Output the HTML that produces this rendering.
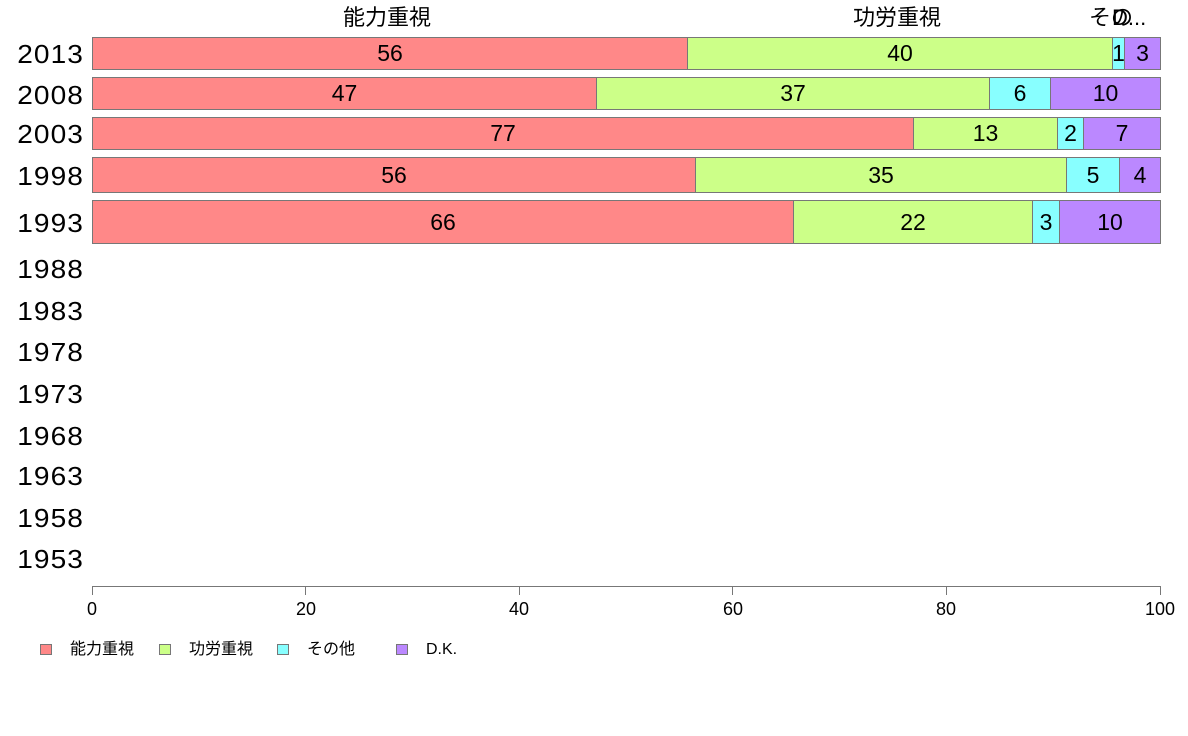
<!DOCTYPE html>
<html><head><meta charset="utf-8"><style>
body{margin:0;background:#fff;width:1188px;height:736px;position:relative;overflow:hidden;font-family:"Liberation Sans","Noto Sans CJK JP",sans-serif;color:#000}
.a{position:absolute}
.s{position:absolute;box-sizing:border-box;border:1px solid #777;display:flex;align-items:center;justify-content:center;font-size:23px}
.y{position:absolute;left:0;width:84px;text-align:right;font-size:26px;line-height:30px;letter-spacing:1px;transform:scaleX(1.08);transform-origin:right center}
.t{position:absolute;font-size:18px;width:40px;margin-left:-20px;text-align:center;top:599px}
.tk{position:absolute;top:587px;width:1px;height:8px;background:#777}
.lg{position:absolute;top:644px;width:12px;height:11px;border:1px solid #777;box-sizing:border-box}
.lt{position:absolute;top:638px;font-size:16px;line-height:24px}
.top{position:absolute;top:4px;font-size:22px;line-height:28px}
</style></head><body>
<div class="top" style="left:343px">能力重視</div>
<div class="top" style="left:853px">功労重視</div>
<div class="top" style="left:1089px">その</div>
<div class="top" style="left:1112px;background:transparent">D...</div>

<div class="s" style="left:92px;top:37px;width:596px;height:33px;background:#FF8888">56</div>
<div class="s" style="left:687px;top:37px;width:426px;height:33px;background:#CCFF88">40</div>
<div class="s" style="left:1112px;top:37px;width:13px;height:33px;background:#88FFFF">1</div>
<div class="s" style="left:1124px;top:37px;width:37px;height:33px;background:#BB88FF">3</div>

<div class="s" style="left:92px;top:77px;width:505px;height:33px;background:#FF8888">47</div>
<div class="s" style="left:596px;top:77px;width:394px;height:33px;background:#CCFF88">37</div>
<div class="s" style="left:989px;top:77px;width:62px;height:33px;background:#88FFFF">6</div>
<div class="s" style="left:1050px;top:77px;width:111px;height:33px;background:#BB88FF">10</div>

<div class="s" style="left:92px;top:117px;width:822px;height:33px;background:#FF8888">77</div>
<div class="s" style="left:913px;top:117px;width:145px;height:33px;background:#CCFF88">13</div>
<div class="s" style="left:1057px;top:117px;width:27px;height:33px;background:#88FFFF">2</div>
<div class="s" style="left:1083px;top:117px;width:78px;height:33px;background:#BB88FF">7</div>

<div class="s" style="left:92px;top:157px;width:604px;height:36px;background:#FF8888">56</div>
<div class="s" style="left:695px;top:157px;width:372px;height:36px;background:#CCFF88">35</div>
<div class="s" style="left:1066px;top:157px;width:54px;height:36px;background:#88FFFF">5</div>
<div class="s" style="left:1119px;top:157px;width:42px;height:36px;background:#BB88FF">4</div>

<div class="s" style="left:92px;top:200px;width:702px;height:44px;background:#FF8888">66</div>
<div class="s" style="left:793px;top:200px;width:240px;height:44px;background:#CCFF88">22</div>
<div class="s" style="left:1032px;top:200px;width:28px;height:44px;background:#88FFFF">3</div>
<div class="s" style="left:1059px;top:200px;width:102px;height:44px;background:#BB88FF">10</div>

<div class="y" style="top:39px">2013</div>
<div class="y" style="top:80px">2008</div>
<div class="y" style="top:119px">2003</div>
<div class="y" style="top:161px">1998</div>
<div class="y" style="top:208px">1993</div>
<div class="y" style="top:254px">1988</div>
<div class="y" style="top:296px">1983</div>
<div class="y" style="top:337px">1978</div>
<div class="y" style="top:379px">1973</div>
<div class="y" style="top:421px">1968</div>
<div class="y" style="top:461px">1963</div>
<div class="y" style="top:503px">1958</div>
<div class="y" style="top:544px">1953</div>

<div class="a" style="left:92px;top:586px;width:1069px;height:1px;background:#777"></div>
<div class="tk" style="left:92px"></div><div class="tk" style="left:305px"></div><div class="tk" style="left:519px"></div><div class="tk" style="left:732px"></div><div class="tk" style="left:946px"></div><div class="tk" style="left:1160px"></div>
<div class="t" style="left:92px">0</div><div class="t" style="left:306px">20</div><div class="t" style="left:519px">40</div><div class="t" style="left:733px">60</div><div class="t" style="left:946px">80</div><div class="t" style="left:1160px">100</div>

<div class="lg" style="left:40px;background:#FF8888"></div><div class="lt" style="left:70px">能力重視</div>
<div class="lg" style="left:159px;background:#CCFF88"></div><div class="lt" style="left:189px">功労重視</div>
<div class="lg" style="left:277px;background:#88FFFF"></div><div class="lt" style="left:307px">その他</div>
<div class="lg" style="left:396px;background:#BB88FF"></div><div class="lt" style="left:426px">D.K.</div>
</body></html>
